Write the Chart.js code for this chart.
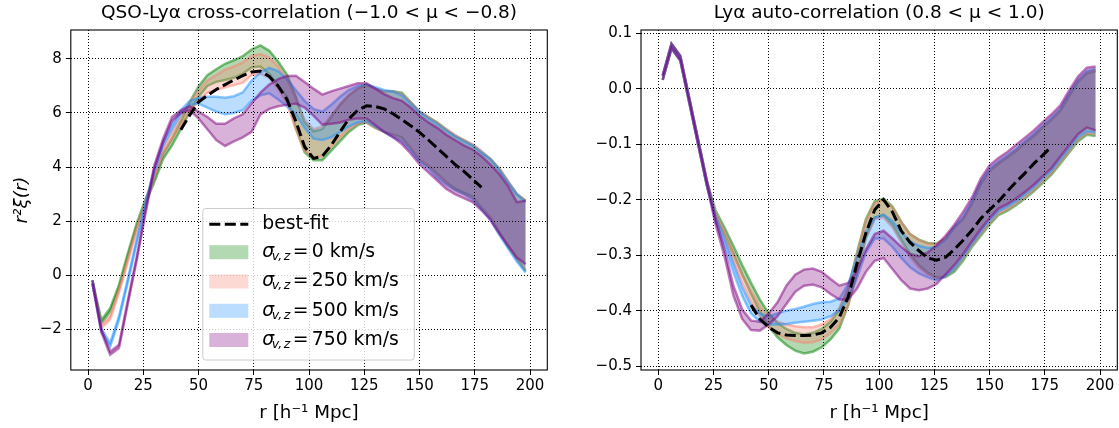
<!DOCTYPE html>
<html><head><meta charset="utf-8">
<script src="https://cdn.jsdelivr.net/npm/chart.js@4"></script>
<style>
html,body{margin:0;padding:0;background:#fff;overflow:hidden;}
#wrap{position:relative;width:1119px;height:428px;background:#fff;}
canvas{position:absolute;top:0;}
</style></head><body>
<div id="wrap">
<canvas id="c1" width="560" height="428" style="left:0;width:560px;height:428px"></canvas>
<canvas id="c2" width="549" height="428" style="left:570px;width:549px;height:428px"></canvas>
</div>
<script>
// ---------- data ----------
const r = [2,6,10,14,18,22,26,30,34,38,42,46,50,54,58,62,66,70,74,78,82,86,90,94,98,102,106,110,114,118,122,126,130,134,138,142,146,150,154,158,162,166,170,174,178,182,186,190,194,198];
const rFit = [42,46,50,54,58,62,66,70,74,78,82,86,90,94,98,102,106,110,114,118,122,126,130,134,138,142,146,150,154,158,162,166,170,174,178];

const xTicks = [0,25,50,75,100,125,150,175,200];
const yTicksCross = [-2,0,2,4,6,8];
const yTicksAuto = [-0.5,-0.4,-0.3,-0.2,-0.1,0.0,0.1];

const legendLabels = ['best-fit', '0 km/s', '250 km/s', '500 km/s', '750 km/s'];
const titleCross = 'QSO-Lyα cross-correlation (−1.0 < μ < −0.8)';
const titleAuto = 'Lyα auto-correlation (0.8 < μ < 1.0)';

// QSO-Lya cross-correlation, r^2 xi
const crossGreenHi = [-0.19,-1.66,-1.23,-0.36,0.81,1.91,2.81,3.56,4.5,5.05,5.7,6.4,6.98,7.4,7.62,7.82,7.95,8.1,8.35,8.5,8.3,7.9,7.42,6.6,5.65,5.32,5.4,5.85,6.3,6.65,6.9,7.05,6.9,6.8,6.8,6.75,6.4,6.05,5.85,5.65,5.4,5.15,5.0,4.8,4.55,4.3,3.95,3.45,3.0,2.75];
const crossGreenLo = [-0.31,-1.78,-1.35,-0.48,0.69,1.79,2.69,3.44,4.3,4.8,5.4,6.05,6.6,7.0,7.15,7.22,7.3,7.45,7.68,7.72,7.45,7.0,6.6,5.45,4.55,4.25,4.25,4.6,4.95,5.3,5.55,5.65,5.45,5.3,5.2,5.1,4.7,4.25,4.05,3.75,3.45,3.2,3.05,2.9,2.5,2.15,1.6,1.05,0.6,0.15];
const crossSalmonHi = [-0.19,-1.84,-1.52,-0.54,0.61,1.76,2.76,3.71,4.68,5.28,5.85,6.38,6.82,7.2,7.4,7.6,7.72,7.87,8.1,8.18,8.05,7.72,7.25,6.5,5.75,5.4,5.5,5.9,6.3,6.65,6.9,7.0,6.9,6.8,6.8,6.7,6.4,6.05,5.85,5.65,5.4,5.2,5.0,4.85,4.6,4.3,3.95,3.5,3.0,2.75];
const crossSalmonLo = [-0.31,-1.96,-1.64,-0.66,0.49,1.64,2.64,3.59,4.5,5.05,5.55,6.05,6.45,6.75,6.85,6.95,7.03,7.12,7.4,7.45,7.3,6.9,6.35,5.4,4.6,4.35,4.4,4.75,5.1,5.4,5.6,5.65,5.45,5.3,5.15,5.0,4.7,4.3,4.05,3.7,3.4,3.15,3.0,2.85,2.5,2.15,1.6,1.1,0.6,0.2];
const crossBlueHi = [-0.19,-1.97,-2.52,-1.53,-0.14,1.31,2.71,3.91,4.92,5.56,6.1,6.45,6.55,6.6,6.6,6.56,6.62,6.76,7.2,7.5,7.67,7.55,7.25,6.85,6.45,6.15,6.05,6.3,6.6,6.85,7.0,7.05,6.95,6.85,6.8,6.65,6.35,6.05,5.8,5.6,5.35,5.15,4.95,4.8,4.55,4.3,3.9,3.45,3.0,2.7];
const crossBlueLo = [-0.31,-2.09,-2.64,-1.65,-0.26,1.19,2.59,3.79,4.78,5.4,5.95,6.3,6.35,6.2,6.05,5.95,6.0,6.1,6.45,6.65,6.73,6.5,6.25,5.95,5.45,5.05,5.0,5.1,5.3,5.5,5.65,5.7,5.5,5.3,5.1,4.95,4.6,4.2,3.95,3.6,3.35,3.15,3.0,2.8,2.45,2.05,1.5,1.0,0.5,0.1];
const crossPurpleHi = [-0.19,-1.99,-2.83,-2.58,-0.94,0.66,2.41,4.06,5.06,5.85,6.1,6.25,6.05,5.85,5.6,5.6,5.8,5.95,6.35,6.75,7.05,7.25,7.37,7.38,7.15,6.9,6.68,6.8,6.9,7.0,7.1,7.1,6.9,6.7,6.55,6.45,6.2,5.9,5.65,5.45,5.2,5.0,4.8,4.65,4.4,4.1,3.75,3.3,2.7,2.75];
const crossPurpleLo = [-0.31,-2.11,-2.95,-2.7,-1.06,0.54,2.29,3.94,4.92,5.7,6.0,6.1,5.8,5.4,5.0,4.78,4.95,5.1,5.3,5.95,6.15,6.25,6.3,6.35,6.2,5.9,5.57,5.6,5.65,5.75,5.8,5.8,5.55,5.3,5.1,4.85,4.5,4.1,3.8,3.5,3.2,3.0,2.85,2.7,2.4,2.05,1.55,1.1,0.65,0.4];
const crossFit = [5.38,5.92,6.4,6.65,6.87,7.05,7.22,7.38,7.52,7.55,7.35,7.0,6.5,5.7,4.75,4.32,4.4,4.8,5.3,5.78,6.1,6.27,6.24,6.15,5.97,5.75,5.53,5.28,5.0,4.7,4.4,4.1,3.85,3.55,3.25];

// Lya auto-correlation, r^2 xi
const autoGreenHi = [0.024,0.081,0.059,-0.016,-0.091,-0.166,-0.22,-0.25,-0.283,-0.318,-0.35,-0.38,-0.405,-0.422,-0.433,-0.44,-0.443,-0.44,-0.433,-0.42,-0.398,-0.36,-0.295,-0.235,-0.203,-0.198,-0.212,-0.24,-0.262,-0.272,-0.278,-0.279,-0.27,-0.25,-0.235,-0.207,-0.172,-0.148,-0.135,-0.124,-0.112,-0.098,-0.085,-0.07,-0.056,-0.04,-0.013,0.012,0.028,0.032];
const autoGreenLo = [0.016,0.073,0.051,-0.024,-0.099,-0.174,-0.23,-0.262,-0.298,-0.335,-0.37,-0.402,-0.428,-0.448,-0.462,-0.472,-0.477,-0.474,-0.466,-0.452,-0.432,-0.39,-0.33,-0.268,-0.232,-0.228,-0.245,-0.272,-0.298,-0.318,-0.332,-0.34,-0.34,-0.33,-0.31,-0.285,-0.265,-0.245,-0.228,-0.22,-0.21,-0.198,-0.185,-0.17,-0.155,-0.135,-0.115,-0.095,-0.083,-0.085];
const autoSalmonHi = [0.024,0.081,0.059,-0.016,-0.091,-0.166,-0.225,-0.258,-0.295,-0.335,-0.365,-0.392,-0.41,-0.42,-0.425,-0.428,-0.43,-0.43,-0.425,-0.415,-0.395,-0.36,-0.298,-0.238,-0.206,-0.2,-0.214,-0.24,-0.262,-0.273,-0.279,-0.28,-0.27,-0.25,-0.233,-0.205,-0.17,-0.146,-0.133,-0.122,-0.11,-0.096,-0.083,-0.068,-0.054,-0.038,-0.011,0.014,0.03,0.034];
const autoSalmonLo = [0.016,0.073,0.051,-0.024,-0.099,-0.174,-0.235,-0.27,-0.31,-0.35,-0.383,-0.41,-0.43,-0.442,-0.45,-0.455,-0.458,-0.457,-0.452,-0.44,-0.425,-0.39,-0.332,-0.27,-0.235,-0.232,-0.25,-0.277,-0.303,-0.322,-0.334,-0.341,-0.338,-0.326,-0.306,-0.282,-0.262,-0.242,-0.225,-0.217,-0.207,-0.195,-0.182,-0.167,-0.152,-0.132,-0.112,-0.092,-0.08,-0.082];
const autoBlueHi = [0.024,0.081,0.059,-0.016,-0.091,-0.166,-0.23,-0.27,-0.315,-0.358,-0.39,-0.405,-0.41,-0.405,-0.4,-0.397,-0.393,-0.388,-0.385,-0.384,-0.378,-0.352,-0.305,-0.258,-0.232,-0.227,-0.238,-0.258,-0.275,-0.283,-0.287,-0.285,-0.272,-0.25,-0.23,-0.203,-0.168,-0.144,-0.131,-0.12,-0.108,-0.094,-0.081,-0.066,-0.052,-0.036,-0.009,0.016,0.032,0.036];
const autoBlueLo = [0.016,0.073,0.051,-0.024,-0.099,-0.174,-0.24,-0.282,-0.33,-0.373,-0.405,-0.42,-0.425,-0.425,-0.424,-0.422,-0.42,-0.418,-0.416,-0.41,-0.4,-0.38,-0.34,-0.295,-0.27,-0.27,-0.285,-0.305,-0.322,-0.333,-0.34,-0.345,-0.338,-0.325,-0.303,-0.28,-0.258,-0.238,-0.221,-0.213,-0.203,-0.191,-0.178,-0.163,-0.148,-0.128,-0.108,-0.088,-0.077,-0.079];
const autoPurpleHi = [0.024,0.081,0.059,-0.016,-0.091,-0.166,-0.235,-0.29,-0.355,-0.398,-0.418,-0.42,-0.405,-0.385,-0.355,-0.335,-0.326,-0.324,-0.33,-0.343,-0.355,-0.35,-0.328,-0.29,-0.262,-0.256,-0.27,-0.285,-0.298,-0.302,-0.295,-0.282,-0.265,-0.245,-0.222,-0.196,-0.162,-0.138,-0.125,-0.114,-0.101,-0.088,-0.075,-0.06,-0.046,-0.03,-0.003,0.022,0.038,0.04];
const autoPurpleLo = [0.016,0.073,0.051,-0.024,-0.099,-0.174,-0.245,-0.302,-0.372,-0.415,-0.435,-0.436,-0.425,-0.41,-0.388,-0.366,-0.355,-0.353,-0.358,-0.37,-0.38,-0.38,-0.36,-0.33,-0.31,-0.305,-0.325,-0.345,-0.36,-0.363,-0.36,-0.352,-0.335,-0.318,-0.298,-0.275,-0.253,-0.233,-0.216,-0.208,-0.198,-0.186,-0.173,-0.158,-0.143,-0.122,-0.102,-0.082,-0.07,-0.075];
const autoFit = [-0.39,-0.415,-0.43,-0.44,-0.444,-0.445,-0.445,-0.444,-0.44,-0.43,-0.412,-0.375,-0.315,-0.26,-0.218,-0.2,-0.222,-0.256,-0.277,-0.292,-0.305,-0.309,-0.304,-0.29,-0.273,-0.255,-0.234,-0.218,-0.203,-0.185,-0.168,-0.152,-0.135,-0.12,-0.104];

// ---------- styling ----------
const FONT = 'DejaVu Sans';
Chart.defaults.font.family = FONT;
Chart.defaults.color = '#000';
const RGB = {green: '0,128,0', salmon: '250,128,114', blue: '30,144,255', purple: '128,0,128'};
const LABEL_SIZE = 18.3, TITLE_SIZE = 18.5, TICK_SIZE = 15, LEG_SIZE = 18.8;

function pts(xs, ys) { return ys.map((y, i) => ({x: xs[i], y: y})); }

function band(lo, hi, rgb, order) {
  return [
    {data: pts(r, lo), borderColor: 'rgba(' + rgb + ',0.5)', borderWidth: 2.5, pointRadius: 0, fill: false, order: order, tension: 0},
    {data: pts(r, hi), borderColor: 'rgba(' + rgb + ',0.5)', borderWidth: 2.5, pointRadius: 0, fill: '-1', backgroundColor: 'rgba(' + rgb + ',0.3)', order: order, tension: 0}
  ];
}
function fitSet(ys) {
  return {data: pts(rFit, ys), borderColor: '#000', borderWidth: 3, borderDash: [11, 4.5], pointRadius: 0, fill: false, order: 0, tension: 0};
}

const fmtMinus = v => (v < 0 ? '\u2212' : '') + Math.abs(v);
const fmtAuto = v => (v < -1e-9 ? '\u2212' : '') + Math.abs(v).toFixed(1);

const framePlugin = {
  id: 'frame',
  afterDraw(chart) {
    const {ctx, chartArea: a} = chart;
    ctx.save();
    ctx.strokeStyle = '#000';
    ctx.lineWidth = 1.1;
    ctx.setLineDash([]);
    ctx.strokeRect(a.left, a.top, a.right - a.left, a.bottom - a.top);
    ctx.restore();
  }
};

const legendPlugin = {
  id: 'bandLegend',
  afterDraw(chart) {
    const {ctx, chartArea: a} = chart;
    const L = a.left + 132, T = a.top + 178.5, W = 211.5, H = 151.5;
    ctx.save();
    ctx.setLineDash([]);
    ctx.beginPath();
    if (ctx.roundRect) ctx.roundRect(L, T, W, H, 3); else ctx.rect(L, T, W, H);
    ctx.fillStyle = 'rgba(255,255,255,0.8)';
    ctx.fill();
    ctx.strokeStyle = '#cccccc';
    ctx.lineWidth = 1;
    ctx.stroke();
    const hx = L + 6.5, hw = 39, tx = L + 59.5;
    const rowY = [T + 15.7, T + 43.7, T + 73, T + 102.3, T + 131.5];
    // best-fit handle
    ctx.strokeStyle = '#000';
    ctx.lineWidth = 3;
    ctx.setLineDash([11, 4.5]);
    ctx.beginPath(); ctx.moveTo(hx, rowY[0]); ctx.lineTo(hx + hw, rowY[0]); ctx.stroke();
    ctx.setLineDash([]);
    ctx.fillStyle = '#000';
    ctx.textBaseline = 'middle';
    ctx.textAlign = 'left';
    ctx.font = LEG_SIZE + 'px "' + FONT + '"';
    ctx.fillText(legendLabels[0], tx, rowY[0]);
    const cols = [RGB.green, RGB.salmon, RGB.blue, RGB.purple];
    for (let i = 0; i < 4; i++) {
      const y = rowY[i + 1];
      ctx.fillStyle = 'rgba(' + cols[i] + ',0.3)';
      ctx.fillRect(hx, y - 7, hw, 14);
      ctx.fillStyle = '#000';
      ctx.font = 'italic ' + LEG_SIZE + 'px "' + FONT + '"';
      ctx.fillText('σ', tx, y);
      ctx.font = 'italic 12.5px "' + FONT + '"';
      const sx = tx + 9.5;
      ctx.fillText('v,', sx, y + 4.5);
      ctx.fillText('z', sx + ctx.measureText('v,').width + 1.5, y + 4.5);
      ctx.font = LEG_SIZE + 'px "' + FONT + '"';
      ctx.fillText('=', tx + 30.5, y);
      ctx.fillText(legendLabels[i + 1], tx + 49.5, y);
    }
    ctx.restore();
  }
};

function makeScales(yMin, yMax, yTicks, yFmt, yWidth, yTitle) {
  const tickFont = {family: FONT, size: TICK_SIZE};
  const grid = {color: '#000', lineWidth: 1, z: 1, drawTicks: true, tickLength: 5, tickColor: '#000', tickWidth: 1, tickBorderDash: []};
  return {
    x: {
      type: 'linear', min: -7.8, max: 207.8,
      afterBuildTicks: s => { s.ticks = xTicks.map(v => ({value: v})); },
      afterFit: s => { s.height = 58; },
      ticks: {font: tickFont, color: '#000', padding: 2, maxRotation: 0, autoSkip: false, callback: v => String(v)},
      grid: grid,
      border: {display: false, dash: [1, 2]},
      title: {display: true, text: 'r [h⁻¹ Mpc]', color: '#000', font: {family: FONT, size: LABEL_SIZE}, padding: {top: 0, bottom: 4}}
    },
    y: {
      type: 'linear', min: yMin, max: yMax,
      afterBuildTicks: s => { s.ticks = yTicks.map(v => ({value: v})); },
      afterFit: s => { s.width = yWidth; },
      ticks: {font: tickFont, color: '#000', padding: 4, autoSkip: false, callback: v => yFmt(v)},
      grid: grid,
      border: {display: false, dash: [1, 2]},
      title: {display: !!yTitle, text: yTitle || '', color: '#000', font: {family: FONT, size: LABEL_SIZE, style: 'italic'}, padding: {top: 11, bottom: 0}}
    }
  };
}

function makeOptions(title, padRight, scales) {
  return {
    responsive: false, animation: false, devicePixelRatio: 1,
    layout: {padding: {left: 0, right: padRight, top: 0, bottom: 0}},
    plugins: {
      legend: {display: false},
      tooltip: {enabled: false},
      title: {display: true, text: title, fullSize: false, color: '#000', font: {family: FONT, size: TITLE_SIZE, weight: 'normal'}, padding: {top: 2.4, bottom: 5.4}}
    },
    scales: scales
  };
}

new Chart(document.getElementById('c1'), {
  type: 'line',
  data: {datasets: [fitSet(crossFit)]
    .concat(band(crossPurpleLo, crossPurpleHi, RGB.purple, 1))
    .concat(band(crossBlueLo, crossBlueHi, RGB.blue, 2))
    .concat(band(crossSalmonLo, crossSalmonHi, RGB.salmon, 3))
    .concat(band(crossGreenLo, crossGreenHi, RGB.green, 4))},
  options: makeOptions(titleCross, 12.7, makeScales(-3.51, 9.07, yTicksCross, fmtMinus, 70.8, 'r²ξ(r)')),
  plugins: [framePlugin, legendPlugin]
});

new Chart(document.getElementById('c2'), {
  type: 'line',
  data: {datasets: [fitSet(autoFit)]
    .concat(band(autoPurpleLo, autoPurpleHi, RGB.purple, 1))
    .concat(band(autoBlueLo, autoBlueHi, RGB.blue, 2))
    .concat(band(autoSalmonLo, autoSalmonHi, RGB.salmon, 3))
    .concat(band(autoGreenLo, autoGreenHi, RGB.green, 4))},
  options: makeOptions(titleAuto, 1.7, makeScales(-0.507, 0.106, yTicksAuto, fmtAuto, 71, null)),
  plugins: [framePlugin]
});
</script>
</body></html>
